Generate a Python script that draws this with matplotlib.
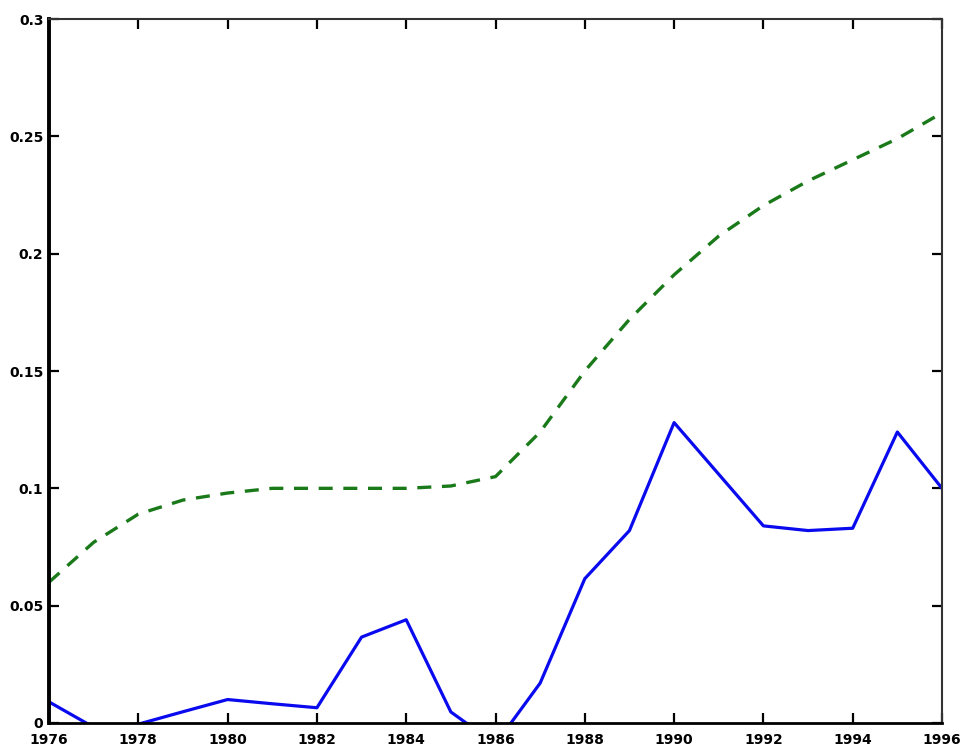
import matplotlib
matplotlib.use("Agg")
import matplotlib.pyplot as plt
import numpy as np

years = list(range(1976, 1997))
blue_vals = [0.009, -0.0018, -0.0005, 0.0048, 0.0100, 0.0082, 0.0065, 0.0366, 0.0440, 0.0047,
             -0.009, 0.017, 0.0615, 0.082, 0.128, 0.106, 0.084, 0.082, 0.083, 0.124, 0.100]
green_vals = [0.060, 0.077, 0.089, 0.095, 0.098, 0.100, 0.100, 0.100, 0.100, 0.101,
              0.105, 0.124, 0.150, 0.172, 0.191, 0.2075, 0.2205, 0.231, 0.240, 0.249, 0.260]
xticks = list(range(1976, 1997, 2))
yticks = [0, 0.05, 0.1, 0.15, 0.2, 0.25, 0.3]
ytick_labels = ['0', '0.05', '0.1', '0.15', '0.2', '0.25', '0.3']

fig = plt.figure(figsize=(9.61, 7.49), dpi=100)
ax = fig.add_axes([49/961, 1 - 723/749, (942-49)/961, (723-19)/749])

ax.plot(years, green_vals, color='#1a7a1a', linestyle=(0, (4.2, 3.2)), linewidth=2.4)
ax.plot(years, blue_vals, color='#0a0aee', linewidth=2.3)

ax.set_xlim(1976, 1996)
ax.set_ylim(0, 0.3)
ax.set_xticks(xticks)
ax.set_xticklabels([str(x) for x in xticks])
ax.set_yticks(yticks)
ax.set_yticklabels(ytick_labels)

ax.tick_params(direction='in', length=7, width=1.6, top=True, right=True,
               labelsize=10, colors='black')
ax.tick_params(axis='x', pad=7)
ax.tick_params(axis='y', pad=4)
for lab in ax.get_xticklabels() + ax.get_yticklabels():
    lab.set_fontweight('bold')
    lab.set_family('DejaVu Sans')

ax.spines['left'].set_linewidth(2.8)
ax.spines['bottom'].set_linewidth(2.0)
ax.spines['top'].set_linewidth(1.5)
ax.spines['right'].set_linewidth(1.5)
ax.spines['top'].set_color('#333333')
ax.spines['right'].set_color('#333333')

fig.savefig('out.png', dpi=100)
